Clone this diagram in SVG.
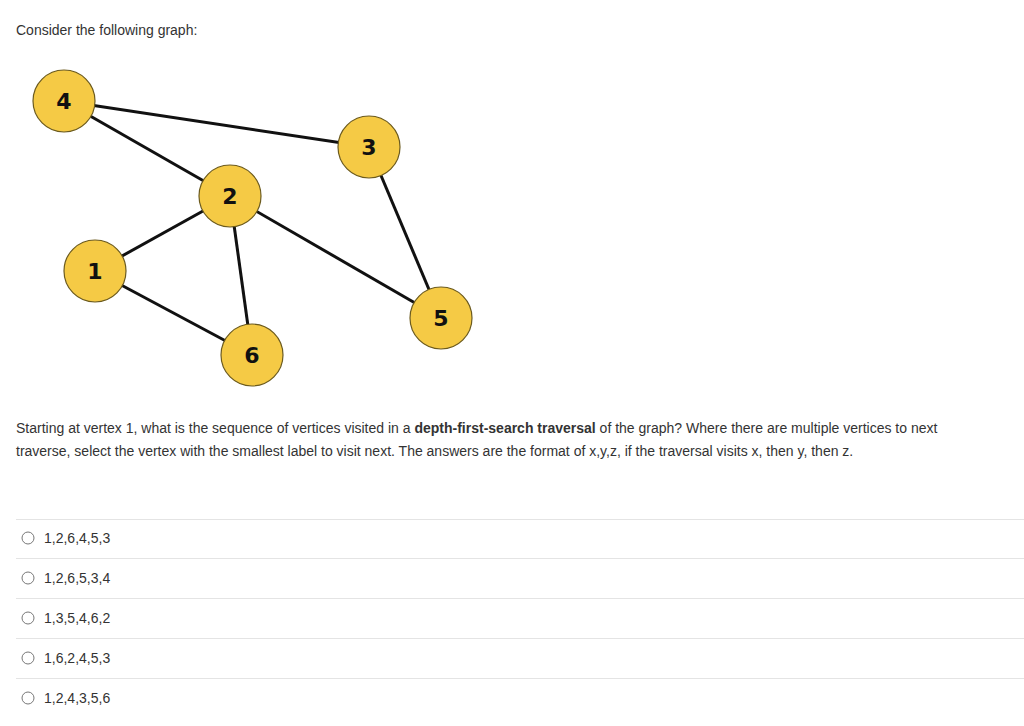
<svg xmlns="http://www.w3.org/2000/svg" width="1024" height="726" viewBox="0 0 1024 726">
<style>
text{font-family:"Liberation Sans",Arial,sans-serif;fill:#333}
.t{font-size:14px}
.n circle{fill:#f5ca45;stroke:#6b5a1e;stroke-width:1.2}
.n text{font-family:"DejaVu Sans",sans-serif;font-weight:bold;font-size:22px;fill:#111;text-anchor:middle}
.e line{stroke:#111;stroke-width:3}
.sep{stroke:#e4e4e4;stroke-width:1}
.r{fill:none;stroke:#777;stroke-width:1}
</style>
<rect width="1024" height="726" fill="#fff"/>
<text class="t" x="16" y="35">Consider the following graph:</text>
<g class="e" id="edges">
<line x1="64" y1="101" x2="369" y2="147"/>
<line x1="64" y1="101" x2="230" y2="196"/>
<line x1="230" y1="196" x2="95" y2="271"/>
<line x1="230" y1="196" x2="441" y2="318"/>
<line x1="230" y1="196" x2="252" y2="355"/>
<line x1="95" y1="271" x2="252" y2="355"/>
<line x1="369" y1="147" x2="441" y2="318"/>
</g>
<g class="n" id="n4"><circle cx="64" cy="101" r="31"/><text x="64" y="109">4</text></g>
<g class="n" id="n3"><circle cx="369" cy="147" r="31"/><text x="369" y="155">3</text></g>
<g class="n" id="n2"><circle cx="230" cy="196" r="31"/><text x="230" y="204">2</text></g>
<g class="n" id="n1"><circle cx="95" cy="271" r="31"/><text x="95" y="279">1</text></g>
<g class="n" id="n5"><circle cx="441" cy="318" r="31"/><text x="441" y="326">5</text></g>
<g class="n" id="n6"><circle cx="252" cy="355" r="31"/><text x="252" y="363">6</text></g>
<text class="t" x="16" y="433">Starting at vertex 1, what is the sequence of vertices visited in a <tspan font-weight="bold">depth-first-search traversal</tspan> of the graph?  Where there are multiple vertices to next</text>
<text class="t" x="16" y="456">traverse, select the vertex with the smallest label to visit next.  The answers are the format of x,y,z, if the traversal visits x, then y, then z.</text>
<line class="sep" x1="16" y1="519.5" x2="1024" y2="519.5"/>
<line class="sep" x1="16" y1="558.5" x2="1024" y2="558.5"/>
<line class="sep" x1="16" y1="598.5" x2="1024" y2="598.5"/>
<line class="sep" x1="16" y1="638.5" x2="1024" y2="638.5"/>
<line class="sep" x1="16" y1="678.5" x2="1024" y2="678.5"/>
<circle class="r" cx="28" cy="538" r="6"/><text class="t" x="44" y="543">1,2,6,4,5,3</text>
<circle class="r" cx="28" cy="578" r="6"/><text class="t" x="44" y="583">1,2,6,5,3,4</text>
<circle class="r" cx="28" cy="618" r="6"/><text class="t" x="44" y="623">1,3,5,4,6,2</text>
<circle class="r" cx="28" cy="658" r="6"/><text class="t" x="44" y="663">1,6,2,4,5,3</text>
<circle class="r" cx="28" cy="698" r="6"/><text class="t" x="44" y="703">1,2,4,3,5,6</text>
</svg>
